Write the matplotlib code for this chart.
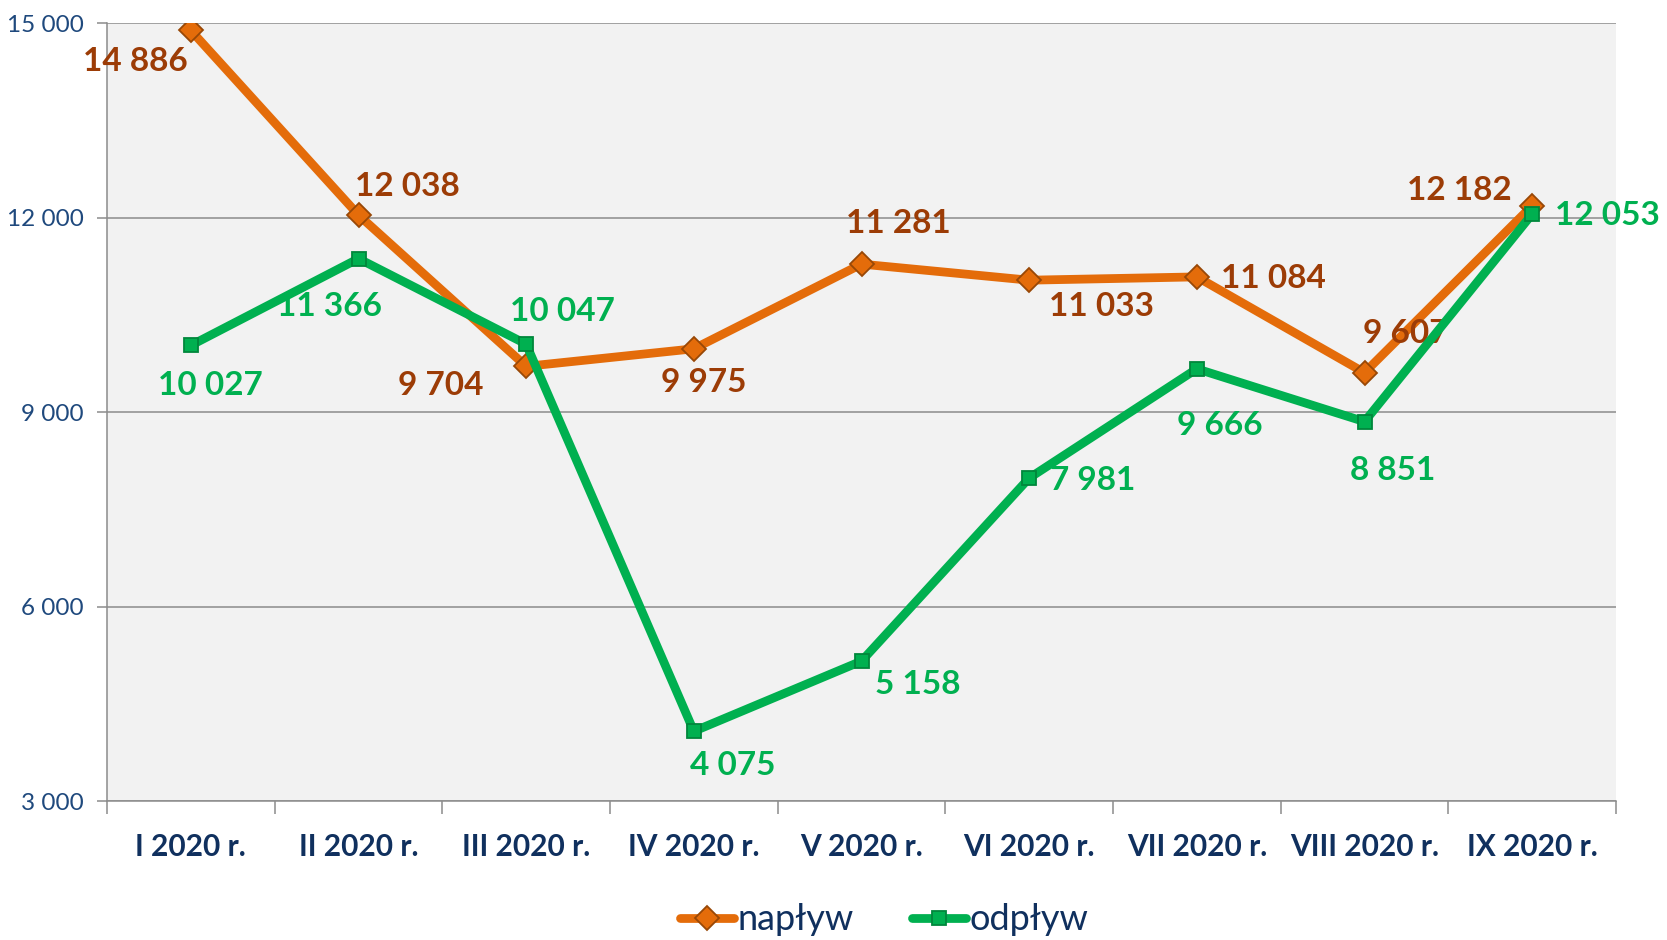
import matplotlib
matplotlib.use("Agg")
import matplotlib.pyplot as plt
from matplotlib.ticker import FixedLocator, FuncFormatter

plt.rcParams['font.family'] = ['Lato', 'DejaVu Sans']

categories = ["I 2020 r.", "II 2020 r.", "III 2020 r.", "IV 2020 r.", "V 2020 r.",
              "VI 2020 r.", "VII 2020 r.", "VIII 2020 r.", "IX 2020 r."]
naplyw = [14886, 12038, 9704, 9975, 11281, 11033, 11084, 9607, 12182]
odplyw = [10027, 11366, 10047, 4075, 5158, 7981, 9666, 8851, 12053]
yticks = [3000, 6000, 9000, 12000, 15000]

# label offsets in pixels (dx, dy)
off_n = [(-55, -31), (49, 29), (-85, -19), (10, -34), (37, 41), (72, -26), (77, -2), (41, 39), (-73, 15)]
off_o = [(20, -40), (-29, -48), (36, 33), (39, -34), (56, -23), (64, -2), (23, -57), (28, -49), (75, -1)]

ORANGE = "#E46C0A"
ORANGE_EDGE = "#984807"
ORANGE_TXT = "#9C3C06"
GREEN = "#00B050"
GREEN_EDGE = "#00873C"
GREEN_TXT = "#00B050"
AX_TXT = "#1F497D"
X_TXT = "#10305E"
GRID = "#8C8C8C"

fig = plt.figure(figsize=(16.67, 9.40), dpi=100)
ax = fig.add_axes([107/1667, 1-801/940, (1616-107)/1667, (801-23)/940])
ax.set_facecolor("#F2F2F2")

x = list(range(len(categories)))

def fmt(v):
    return f"{v:,}".replace(",", " ")

ax.plot(x, naplyw, color=ORANGE, lw=6.3, marker="D", ms=12, mfc=ORANGE,
        mec=ORANGE_EDGE, mew=1.3, zorder=3, label="napływ", solid_capstyle="round")
for xi, v, (dx, dy) in zip(x, naplyw, off_n):
    ax.annotate(fmt(v), (xi, v), xytext=(dx, dy), textcoords="offset pixels",
                ha="center", va="center", fontsize=24, fontweight="bold",
                color=ORANGE_TXT, zorder=4, annotation_clip=False)

ax.plot(x, odplyw, color=GREEN, lw=6.3, marker="s", ms=10.5, mfc=GREEN,
        mec=GREEN_EDGE, mew=1.3, zorder=5, label="odpływ", solid_capstyle="round")
for xi, v, (dx, dy) in zip(x, odplyw, off_o):
    ax.annotate(fmt(v), (xi, v), xytext=(dx, dy), textcoords="offset pixels",
                ha="center", va="center", fontsize=24, fontweight="bold",
                color=GREEN_TXT, zorder=6, annotation_clip=False)

ax.set_xlim(-0.5, len(categories) - 0.5)
ax.set_ylim(3000, 15000)

ax.set_yticks(yticks)
ax.yaxis.set_major_formatter(FuncFormatter(lambda v, p: fmt(int(v))))
ax.grid(axis="y", color=GRID, lw=1.1, zorder=1)
ax.set_axisbelow(True)

ax.set_xticks(x)
ax.set_xticklabels(categories)
ax.xaxis.set_minor_locator(FixedLocator([i - 0.5 for i in range(len(categories) + 1)]))
ax.tick_params(axis="x", which="major", length=0, pad=23, labelsize=21.5, labelcolor=X_TXT)
for t in ax.get_xticklabels():
    t.set_fontweight("bold")
ax.tick_params(axis="x", which="minor", length=9, width=1.1, color=GRID, direction="out")
ax.tick_params(axis="y", length=7, width=1.1, color=GRID, pad=10, labelsize=17.5, labelcolor=AX_TXT)

for s in ["top", "right"]:
    ax.spines[s].set_visible(False)
for s in ["left", "bottom"]:
    ax.spines[s].set_color(GRID)
    ax.spines[s].set_linewidth(1.1)

fig.legend(loc="center", bbox_to_anchor=(884/1667, 1-920/940), ncol=2, frameon=False,
           fontsize=26, labelcolor=X_TXT, handlelength=1.5, handletextpad=0.1,
           columnspacing=1.6, borderpad=0.2)

fig.savefig("out.png", dpi=100, facecolor="white")
